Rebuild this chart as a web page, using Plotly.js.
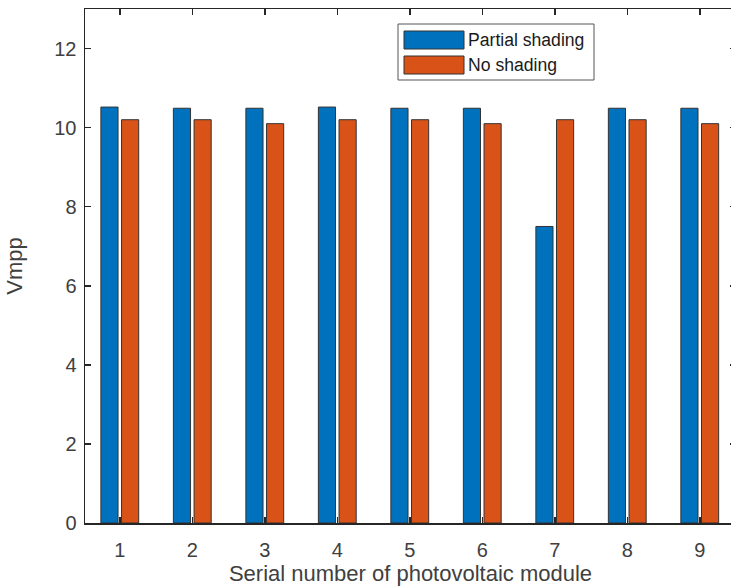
<!DOCTYPE html>
<html>
<head>
<meta charset="utf-8">
<script src="https://cdn.plot.ly/plotly-3.0.1.min.js"></script>
<style>
  html, body { margin: 0; padding: 0; background: #fff; overflow: hidden; width: 731px; height: 587px; }
  #chart { width: 740px; height: 587px; }
</style>
</head>
<body>
<div id="chart"></div>
<script>
// Module numbers along the x axis
const modules = [1, 2, 3, 4, 5, 6, 7, 8, 9];
const tickLabels = ['1', '2', '3', '4', '5', '6', '7', '8', '9'];

// Maximum power point voltage of each module
const partialShading = [10.52, 10.49, 10.49, 10.52, 10.49, 10.49, 7.5, 10.49, 10.49];
const noShading      = [10.2, 10.2, 10.1, 10.2, 10.2, 10.1, 10.2, 10.2, 10.1];

const seriesNames = ['Partial shading', 'No shading'];
const seriesColors = ['#0072BD', '#D95319'];

const W = 740, H = 587;
const M = { l: 85, r: 4, t: 9, b: 64 };
const plotW = W - M.l - M.r, plotH = H - M.t - M.b;
const px = x => (x - M.l) / plotW;          // pixel -> paper x
const py = y => 1 - (y - M.t) / plotH;      // pixel -> paper y

const axisColor = '#262626';
const textColor = '#404040';
const font = 'Arial, "Liberation Sans", Helvetica, sans-serif';

const traces = [partialShading, noShading].map((vals, i) => ({
  type: 'bar',
  name: seriesNames[i],
  x: modules,
  y: vals,
  marker: { color: seriesColors[i], line: { color: '#333333', width: 1 } },
  showlegend: false,
  hoverinfo: 'x+y+name'
}));

// Legend box drawn in paper space
const shapes = [
  { type: 'rect', xref: 'paper', yref: 'paper',
    x0: px(398), x1: px(594), y0: py(80), y1: py(24),
    line: { color: '#555555', width: 1 }, fillcolor: '#ffffff' },
  { type: 'rect', xref: 'paper', yref: 'paper',
    x0: px(404), x1: px(464), y0: py(49), y1: py(31),
    line: { color: '#333333', width: 1 }, fillcolor: seriesColors[0] },
  { type: 'rect', xref: 'paper', yref: 'paper',
    x0: px(404), x1: px(464), y0: py(74), y1: py(56),
    line: { color: '#333333', width: 1 }, fillcolor: seriesColors[1] }
];

const annotations = seriesNames.map((name, i) => ({
  xref: 'paper', yref: 'paper',
  x: px(466), y: py(i === 0 ? 40 : 65),
  xanchor: 'left', yanchor: 'middle',
  text: name, showarrow: false,
  font: { family: font, size: 17.6, color: '#1a1a1a' }
}));

const layout = {
  width: W, height: H,
  margin: M,
  paper_bgcolor: '#ffffff',
  plot_bgcolor: '#ffffff',
  barmode: 'group',
  bargap: 0.43,
  bargroupgap: 0.17,
  font: { family: font, color: textColor },
  xaxis: {
    range: [0.52, 9.5],
    tickvals: modules,
    ticktext: tickLabels,
    ticks: 'inside', ticklen: 6, tickwidth: 1.5, tickcolor: axisColor,
    showline: true, linecolor: axisColor, linewidth: 1.5, mirror: 'ticks',
    showgrid: false, zeroline: false,
    ticklabelstandoff: 8,
    tickfont: { size: 20, color: textColor },
    title: { text: 'Serial number of photovoltaic module', font: { size: 22, color: textColor }, standoff: 6 }
  },
  yaxis: {
    range: [0, 13],
    tickvals: [0, 2, 4, 6, 8, 10, 12],
    ticks: 'inside', ticklen: 6, tickwidth: 1.5, tickcolor: axisColor,
    showline: true, linecolor: axisColor, linewidth: 1.5, mirror: 'ticks',
    showgrid: false, zeroline: false,
    ticklabelstandoff: 3,
    tickfont: { size: 20, color: textColor },
    title: { text: 'Vmpp', font: { size: 22, color: textColor }, standoff: 25 }
  },
  shapes: shapes,
  annotations: annotations
};

Plotly.newPlot('chart', traces, layout, { displayModeBar: false, staticPlot: true });
</script>
</body>
</html>
